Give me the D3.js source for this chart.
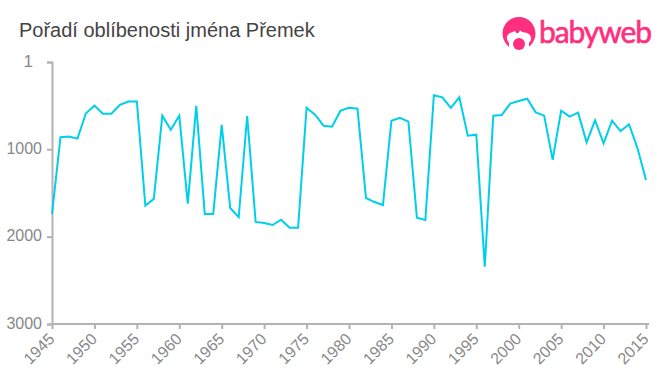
<!DOCTYPE html>
<html>
<head>
<meta charset="utf-8">
<script src="https://cdn.jsdelivr.net/npm/d3@7"></script>
<style>
  html, body { margin: 0; padding: 0; background: #fff; }
  text { font-family: "Liberation Sans", Arial, sans-serif; }
</style>
</head>
<body>
<div id="chart"></div>
<script>
var title = "Pořadí oblíbenosti jména Přemek";

var years = [1945,1946,1947,1948,1949,1950,1951,1952,1953,1954,1955,1956,1957,1958,1959,
  1960,1961,1962,1963,1964,1965,1966,1967,1968,1969,1970,1971,1972,1973,1974,
  1975,1976,1977,1978,1979,1980,1981,1982,1983,1984,1985,1986,1987,1988,1989,
  1990,1991,1992,1993,1994,1995,1996,1997,1998,1999,2000,2001,2002,2003,2004,
  2005,2006,2007,2008,2009,2010,2011,2012,2013,2014,2015];

var ranks = [1743,862,855,878,587,500,592,592,492,454,454,1645,1568,615,778,
  615,1622,504,1740,1740,720,1672,1778,619,1832,1844,1867,1806,1898,1898,
  524,604,730,742,558,524,536,1558,1604,1638,673,639,684,1783,1810,
  382,405,527,405,845,833,2344,615,608,478,447,421,577,615,1120,
  558,627,581,920,668,932,673,791,714,989,1352];

var xTicks = [1945,1950,1955,1960,1965,1970,1975,1980,1985,1990,1995,2000,2005,2010,2015];
var yTicks = [1,1000,2000,3000];

var svgWidth = 660;
var svgHeight = 375;
var margin = { top: 62, right: 14, bottom: 51, left: 52 };
var chartWidth = svgWidth - margin.left - margin.right;
var chartHeight = svgHeight - margin.top - margin.bottom;

var svg = d3.select("#chart")
  .append("svg")
  .attr("width", svgWidth)
  .attr("height", svgHeight)
  .style("display", "block");

svg.append("text")
  .attr("x", 19)
  .attr("y", 37)
  .attr("font-size", "20px")
  .attr("fill", "#444")
  .text(title);

var chartGroup = svg.append("g")
  .attr("transform", `translate(${margin.left}, ${margin.top})`);

var xScale = d3.scaleLinear().domain([1945, 2015]).range([0, chartWidth]);
var yScale = d3.scaleLinear().domain([1, 3000]).range([0, chartHeight]);

var yAxis = d3.axisLeft(yScale).tickValues(yTicks).tickFormat(d3.format("d")).tickSize(5).tickPadding(5);
var xAxis = d3.axisBottom(xScale).tickValues(xTicks).tickFormat(d3.format("d")).tickSize(5).tickSizeOuter(0);

var yG = chartGroup.append("g").call(yAxis);
var xG = chartGroup.append("g")
  .attr("transform", `translate(0, ${chartHeight})`)
  .call(xAxis);

// x axis line runs a little past the last tick
xG.select(".domain").attr("d", `M-1,0H${chartWidth + 3}`);

[yG, xG].forEach(g => {
  g.select(".domain").attr("stroke", "#b3b3b3").attr("stroke-width", 2);
  g.selectAll(".tick line").attr("stroke", "#b3b3b3").attr("stroke-width", 2);
  g.selectAll("text")
    .attr("font-family", "Liberation Sans, Arial, sans-serif")
    .attr("font-size", "16px")
    .attr("fill", "#888");
});

yG.selectAll(".tick text").attr("dy", "0.27em");
// the "1" label sits further left than the others and is a bit bigger
yG.selectAll(".tick text").filter(d => d === 1).attr("dx", "-9").attr("font-size", "17px");

xG.selectAll(".tick text")
  .attr("text-anchor", "end")
  .attr("dy", "0")
  .attr("y", 0)
  .attr("transform", "translate(3, 16) rotate(-45)");

var line = d3.line()
  .x((d, i) => xScale(years[i]))
  .y(d => yScale(d));

chartGroup.append("path")
  .datum(ranks)
  .attr("d", line)
  .attr("fill", "none")
  .attr("stroke", "#00cfea")
  .attr("stroke-width", 2)
  .attr("stroke-linejoin", "miter");

// logo
var logo = svg.append("g").attr("transform", "translate(519, 34)");
logo.append("circle").attr("r", 16.5).attr("cy", -0.5).attr("fill", "#ff2e7e");
logo.append("path")
  .attr("d", "M-10,17 L-10,9 C-13,6 -13,1 -9,-1 C-7,-2 -6,-2 -4,-3 C-3,0 0,0 1,-4 C3,-1 6,-2 8,-1 C13,1 13,6 10,9 L10,17 Z")
  .attr("fill", "#fff");
logo.append("circle").attr("cy", 10).attr("r", 6).attr("fill", "#ff2e7e");

svg.append("text")
  .attr("x", 539)
  .attr("y", 43)
  .style("font-family", "Lato, sans-serif")
  .attr("font-size", "30px")
  .attr("textLength", 113)
  .attr("fill", "#ff2e7e")
  .attr("stroke", "#ff2e7e")
  .attr("stroke-width", 0.6)
  .text("babyweb");
</script>
</body>
</html>
